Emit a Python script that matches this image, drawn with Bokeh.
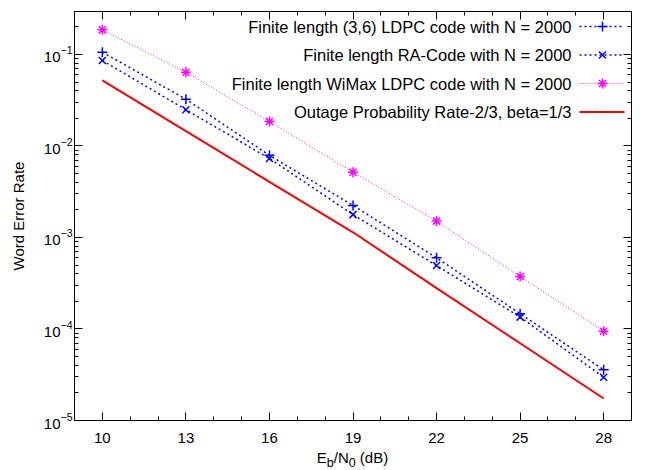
from bokeh.plotting import figure
from bokeh.layouts import column
from bokeh.models import (Range1d, FixedTicker, LinearAxis, LogAxis, LinearScale, Div,
                          CustomJSTickFormatter)
from bokeh.embed import file_html
from bokeh.resources import INLINE
from bokeh.core.properties import value

# ---------------- data ----------------
snr_db = [10, 13, 16, 19, 22, 25, 28]
wer_ldpc36 = [0.106, 0.0325, 0.0079, 0.00224, 0.00060, 0.000147, 0.0000358]
wer_ra = [0.086, 0.0249, 0.0073, 0.00178, 0.000494, 0.000135, 0.0000297]
wer_wimax = [0.186, 0.064, 0.0185, 0.00518, 0.00151, 0.000375, 0.0000946]
outage = [0.052, 0.0145, 0.00406, 0.00114, 0.00028, 0.0000698, 0.0000174]

series_labels = [
    "Finite length (3,6) LDPC code with N = 2000",
    "Finite length RA-Code with N = 2000",
    "Finite length WiMax LDPC code with N = 2000",
    "Outage Probability Rate-2/3, beta=1/3",
]
x_ticks = [10, 13, 16, 19, 22, 25, 28]
x_minor_ticks = list(range(9, 30))
y_ticks = [1e-5, 1e-4, 1e-3, 1e-2, 1e-1]
y_minor_ticks = [m * 10.0 ** e for e in range(-5, 0) for m in range(2, 10)]
x_label_html = "E<sub>b</sub>/N<sub>0</sub> (dB)"

FONT = "Liberation Sans"
BLUE = "#0000ff"
MAGENTA = "#ff00ff"
RED = "#ff0000"

FW, FH = 557, 409
BL, BR = 74, 5
p = figure(frame_width=FW, frame_height=FH, x_range=(9, 29), y_range=(1e-5, 0.295),
           y_axis_type="log", output_backend="svg", toolbar_location=None,
           min_border_left=BL, min_border_right=BR, min_border_top=11, min_border_bottom=30)
p.grid.visible = False
p.outline_line_color = "black"
p.outline_line_width = 1
p.background_fill_color = "white"
p.border_fill_color = "white"

# mirrored axes (ticks only)
p.add_layout(LinearAxis(), "above")
p.add_layout(LogAxis(), "right")

for ax in p.xaxis:
    ax.ticker = FixedTicker(ticks=x_ticks, minor_ticks=x_minor_ticks)
for ax in p.yaxis:
    ax.ticker = FixedTicker(ticks=y_ticks, minor_ticks=y_minor_ticks)

for ax in list(p.xaxis) + list(p.yaxis):
    ax.major_tick_in = 8
    ax.major_tick_out = 0
    ax.minor_tick_in = 4
    ax.minor_tick_out = 0
    ax.axis_line_color = "black"
    ax.major_tick_line_color = "black"
    ax.minor_tick_line_color = "black"
    ax.major_label_text_font = FONT
    ax.major_label_text_font_size = "15px"
    ax.major_label_text_color = "black"
    ax.axis_label_text_font = FONT
    ax.axis_label_text_font_size = "15px"
    ax.axis_label_text_font_style = "normal"
    ax.axis_label_text_color = "black"

p.below[0].major_label_standoff = 12
p.left[0].major_label_standoff = 2
p.left[0].axis_label = "Word Error Rate"
p.left[0].axis_label_standoff = 14
for ax in (p.above[0], p.right[0]):
    ax.formatter = CustomJSTickFormatter(code="return ''")
    ax.major_label_standoff = 0

# ---------------- data series ----------------
p.line(snr_db, wer_ldpc36, line_color=BLUE, line_width=1.5, line_dash="2 3")
p.scatter(snr_db, wer_ldpc36, marker="cross", size=10, line_color=BLUE, line_width=1.5)
p.line(snr_db, wer_ra, line_color=BLUE, line_width=1.5, line_dash="2 3")
p.scatter(snr_db, wer_ra, marker="x", size=10, line_color=BLUE, line_width=1.5)
p.line(snr_db, wer_wimax, line_color=MAGENTA, line_width=1, line_dash="1 2")
p.scatter(snr_db, wer_wimax, marker="asterisk", size=10, line_color=MAGENTA, line_width=1.5)
p.line(snr_db, outage, line_color=RED, line_width=2)

# ---------------- legend (pixel coordinates inside the frame) ----------------
p.extra_x_ranges = {"px": Range1d(0, FW)}
p.extra_y_ranges = {"px": Range1d(0, FH)}
p.extra_x_scales = {"px": LinearScale()}
p.extra_y_scales = {"px": LinearScale()}

leg_rows = [394, 365.5, 337, 308.5]
leg_text_x = 497
leg_line_x0, leg_line_x1, leg_mark_x = 505, 550, 528

p.text(x=[leg_text_x] * 4, y=leg_rows, text=series_labels, text_align="right",
       text_baseline="middle", text_font=value(FONT), text_font_size="16.5px",
       text_color="black", x_range_name="px", y_range_name="px")

styles = [
    dict(color=BLUE, width=1.5, dash="2 3", marker="cross"),
    dict(color=BLUE, width=1.5, dash="2 3", marker="x"),
    dict(color=MAGENTA, width=1, dash="1 2", marker="asterisk"),
    dict(color=RED, width=2, dash="solid", marker=None),
]
for row, st in zip(leg_rows, styles):
    p.line([leg_line_x0, leg_line_x1], [row, row], line_color=st["color"], line_width=st["width"],
           line_dash=st["dash"], x_range_name="px", y_range_name="px")
    if st["marker"]:
        p.scatter([leg_mark_x], [row], marker=st["marker"], size=10, line_color=st["color"],
                  line_width=1.5, x_range_name="px", y_range_name="px")

# ---------------- x-axis label (HTML, with subscripts) ----------------
xlabel = Div(text=x_label_html, width=FW, margin=(0, 0, 0, BL),
             styles={"text-align": "center", "font-family": FONT, "font-size": "15px",
                     "color": "black", "line-height": "16px"})

layout = column(p, xlabel, spacing=0)
open("out.html", "w").write(file_html(layout, INLINE))
